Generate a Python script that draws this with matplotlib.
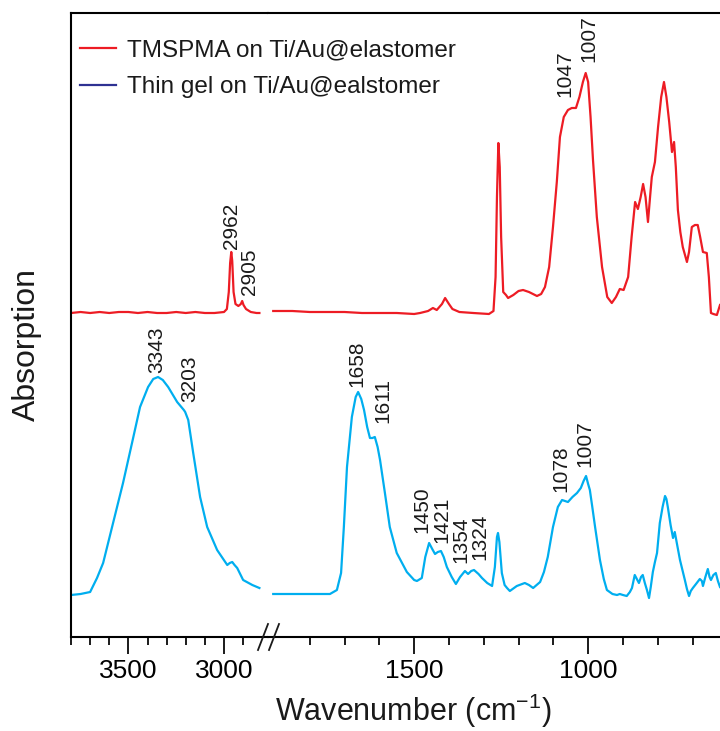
"""FTIR spectra: TMSPMA layer vs thin gel on Ti/Au@elastomer, broken wavenumber axis."""

import matplotlib

matplotlib.use("Agg")
import matplotlib.pyplot as plt
from matplotlib.lines import Line2D
from matplotlib.ticker import FixedLocator

RED = "#ed1c24"
CYAN = "#00aeef"
NAVY = "#2e3192"
INK = "#1a1a1a"

plt.rcParams.update({
    "font.family": ["Liberation Sans", "DejaVu Sans"],
    "mathtext.default": "regular",
    "axes.linewidth": 1.5,
    "text.color": INK,
})

# ---- data: wavenumber (cm-1) / absorption (offset, a.u.) --------------------
# high-wavenumber window
red_hi_wn = [3800, 3750, 3700, 3650, 3600, 3550, 3500, 3450, 3400, 3350, 3300, 3250,
             3200, 3150, 3100, 3050, 3000, 2985, 2975, 2968, 2962, 2957, 2950, 2940,
             2925, 2912, 2905, 2898, 2885, 2860, 2830, 2815]
red_hi_a = [324, 325, 324, 325, 324, 325, 325, 324, 325, 324, 324, 325,
            324, 325, 324, 324, 325, 328, 345, 374, 385, 376, 345, 333,
            331, 333, 336, 332, 328, 325, 324, 324]

blue_hi_wn = [3800, 3750, 3700, 3664, 3632, 3580, 3528, 3481, 3439, 3397, 3370, 3345,
              3320, 3292, 3245, 3210, 3203, 3187, 3161, 3125, 3088, 3036, 2983, 2970,
              2957, 2945, 2931, 2900, 2852, 2815]
blue_hi_a = [42, 43, 45, 59, 74, 114, 154, 194, 230, 250, 258, 260,
             257, 250, 235, 227, 225, 217, 184, 140, 110, 87, 72, 74,
             75, 72, 69, 57, 52, 49]

# fingerprint window
red_lo_wn = [1905, 1850, 1800, 1750, 1700, 1650, 1600, 1550, 1500, 1483, 1460, 1446,
             1435, 1420, 1411, 1400, 1390, 1370, 1330, 1285, 1272, 1266, 1262, 1258,
             1254, 1250, 1244, 1236, 1230, 1215, 1200, 1187, 1170, 1147, 1135, 1124,
             1112, 1101, 1090, 1081, 1070, 1058, 1047, 1035, 1025, 1015, 1007, 1000,
             993, 986, 975, 960, 945, 932, 920, 909, 898, 885, 875, 865,
             857, 849, 842, 835, 828, 822, 817, 808, 799, 790, 782, 775,
             767, 759, 753, 748, 742, 735, 728, 716, 710, 702, 693, 685,
             678, 670, 659, 653, 647, 640, 630, 621]
red_lo_a = [326, 326, 325, 325, 325, 324, 324, 324, 323, 324, 326, 329,
            327, 333, 339, 333, 328, 325, 324, 323, 326, 360, 440, 494,
            470, 400, 345, 342, 339, 342, 346, 347, 345, 341, 343, 350,
            370, 410, 455, 500, 520, 527, 529, 529, 540, 555, 564, 555,
            520, 477, 420, 370, 340, 334, 340, 348, 347, 360, 400, 435,
            428, 440, 453, 440, 415, 440, 460, 475, 510, 540, 555, 540,
            515, 485, 495, 470, 427, 405, 390, 375, 385, 410, 412, 412,
            400, 385, 384, 360, 324, 323, 322, 332]

blue_lo_wn = [1905, 1850, 1800, 1742, 1722, 1710, 1702, 1693, 1679, 1668, 1661, 1652,
              1644, 1635, 1627, 1620, 1613, 1605, 1598, 1584, 1570, 1550, 1521, 1500,
              1492, 1478, 1468, 1457, 1448, 1440, 1432, 1423, 1415, 1406, 1392, 1380,
              1368, 1354, 1345, 1336, 1328, 1315, 1305, 1290, 1276, 1268, 1262, 1259,
              1255, 1248, 1240, 1233, 1225, 1205, 1182, 1170, 1158, 1138, 1127, 1116,
              1101, 1087, 1075, 1058, 1045, 1032, 1021, 1013, 1006, 1000, 995, 988,
              980, 966, 955, 946, 930, 917, 909, 900, 889, 880, 874, 866,
              860, 854, 848, 843, 837, 831, 825, 820, 814, 808, 802, 794,
              786, 779, 775, 771, 763, 756, 751, 743, 736, 729, 722, 716,
              710, 705, 699, 690, 679, 673, 670, 663, 656, 651, 647, 640,
              633, 627, 621]
blue_lo_a = [43, 43, 43, 43, 47, 64, 110, 170, 220, 240, 245, 238,
             227, 210, 199, 199, 200, 190, 177, 144, 110, 84, 65, 57,
             56, 59, 80, 94, 88, 83, 85, 86, 80, 70, 60, 53,
             60, 66, 63, 66, 67, 63, 59, 54, 51, 70, 100, 104,
             95, 64, 52, 49, 46, 51, 54, 52, 49, 55, 65, 80,
             110, 130, 137, 135, 140, 144, 149, 156, 161, 153, 147, 130,
             110, 77, 58, 47, 43, 42, 43, 42, 41, 45, 49, 62,
             58, 54, 60, 62, 54, 47, 39, 50, 65, 75, 84, 114,
             130, 141, 138, 130, 112, 99, 105, 90, 77, 67, 57, 48,
             41, 46, 49, 53, 58, 56, 51, 60, 68, 60, 57, 62,
             64, 56, 50]

# peak labels: text, anchor wavenumber, anchor height
hi_labels = [("2962", 2962, 388), ("2905", 2868, 342),
             ("3343", 3350, 264), ("3203", 3177, 235)]
lo_labels = [("1047", 1067, 540), ("1007", 998, 575),
             ("1658", 1664, 250), ("1611", 1590, 214),
             ("1450", 1479, 104), ("1421", 1421, 94),
             ("1354", 1366, 74), ("1324", 1311, 77),
             ("1078", 1078, 145), ("1007", 1009, 170)]

LEGEND = ["TMSPMA on Ti/Au@elastomer", "Thin gel on Ti/Au@ealstomer"]

# ---- layout (pixels of a 720 x 731 canvas) ---------------------------------
W, H = 720, 731
X0, XB, X1 = 71, 268, 720
Y_TOP, Y_BOT = 13, 637

fig = plt.figure(figsize=(W / 100, H / 100), dpi=100)
rect = lambda a, b: [a / W, 1 - Y_BOT / H, (b - a) / W, (Y_BOT - Y_TOP) / H]
ax_hi = fig.add_axes(rect(X0, XB))
ax_lo = fig.add_axes(rect(XB, X1))

ax_hi.plot(red_hi_wn, red_hi_a, color=RED, lw=1.6)
ax_hi.plot(blue_hi_wn, blue_hi_a, color=CYAN, lw=1.6)
ax_lo.plot(red_lo_wn, red_lo_a, color=RED, lw=1.6)
ax_lo.plot(blue_lo_wn, blue_lo_a, color=CYAN, lw=1.6)

ax_hi.set_xlim(3800, 2770)
ax_lo.set_xlim(1920, 621)
for ax in (ax_hi, ax_lo):
    ax.set_ylim(0, 624)
    ax.set_yticks([])
    ax.spines["right"].set_visible(False)
    ax.tick_params(axis="x", which="major", length=12, width=1.4, labelsize=19,
                   pad=4, color=INK)
    ax.tick_params(axis="x", which="minor", length=6, width=1.4, color=INK)
ax_lo.spines["left"].set_visible(False)

ax_hi.xaxis.set_major_locator(FixedLocator([3500, 3000]))
ax_hi.xaxis.set_minor_locator(FixedLocator(range(3800, 2850, -100)))
ax_lo.xaxis.set_major_locator(FixedLocator([1500, 1000]))
ax_lo.xaxis.set_minor_locator(FixedLocator(range(1800, 650, -100)))

for ax, labels in ((ax_hi, hi_labels), (ax_lo, lo_labels)):
    for txt, wn, a in labels:
        ax.text(wn, a, txt, rotation=90, ha="center", va="bottom", fontsize=15)

# axis-break marks
for xc in (263, 274):
    fig.add_artist(Line2D([(xc - 5) / W, (xc + 5) / W],
                          [1 - 650 / H, 1 - 624 / H],
                          transform=fig.transFigure, color=INK, lw=1.3))

handles = [Line2D([], [], color=RED, lw=1.6), Line2D([], [], color=NAVY, lw=1.6)]
fig.legend(handles, LEGEND, loc="upper left", bbox_to_anchor=(80 / W, 1 - 39 / H),
           frameon=False, fontsize=17.5, handlelength=1.5, handletextpad=0.45,
           labelspacing=0.62, borderpad=0, borderaxespad=0)

fig.text(27 / W, 1 - 345 / H, "Absorption", rotation=90, ha="center", va="center",
         fontsize=23)
fig.text(413 / W, 1 - 711 / H, "Wavenumber (cm$^{-1}$)", ha="center", va="center",
         fontsize=22)

fig.savefig("out.png", dpi=100)
